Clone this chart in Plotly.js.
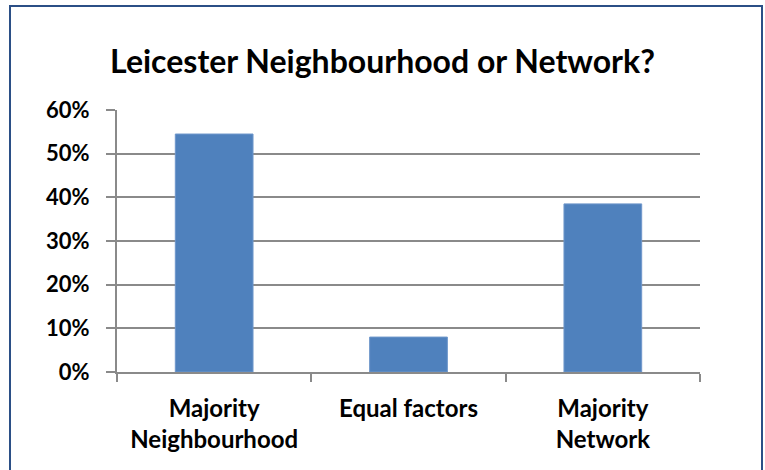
<!DOCTYPE html>
<html>
<head>
<meta charset="utf-8">
<script src="https://cdn.plot.ly/plotly-3.0.1.min.js"></script>
<style>
  html, body { margin:0; padding:0; background:#ffffff; }
  #wrap { position:relative; width:765px; height:470px; overflow:hidden; }
  #chart { position:absolute; left:0; top:0; width:765px; height:470px; }
  #frame { position:absolute; left:9px; top:5px; width:750px; height:480px;
           border:2px solid #2B4F86; pointer-events:none; }
</style>
</head>
<body>
<div id="wrap">
  <div id="chart"></div>
  <div id="frame"></div>
</div>
<script>
const categories = ["Majority<br>Neighbourhood", "Equal factors", "Majority<br>Network"];
const shares = [0.545, 0.08, 0.385];
const yTickVals = [0, 0.1, 0.2, 0.3, 0.4, 0.5, 0.6];
const yTickText = ["0%", "10%", "20%", "30%", "40%", "50%", "60%"];
const chartTitle = "Leicester Neighbourhood or Network?";

const FONT = "Lato, 'Open Sans', 'DejaVu Sans', sans-serif";

Plotly.newPlot("chart", [{
  type: "bar",
  x: categories,
  y: shares,
  marker: { color: "#4F81BD", line: { color: "#6F97CB", width: 1 } },
  hoverinfo: "skip"
}], {
  width: 765, height: 470,
  paper_bgcolor: "#ffffff", plot_bgcolor: "#ffffff",
  margin: { l: 117, r: 65, t: 110, b: 98 },
  bargap: 0.6,
  showlegend: false,
  title: {
    text: "<b>" + chartTitle + "</b>",
    font: { family: FONT, size: 32, color: "#000000" },
    x: 0.5, xanchor: "center", xref: "container",
    y: 1 - 62/470, yanchor: "middle"
  },
  xaxis: {
    type: "category",
    showline: true, linecolor: "#8A8A8A", linewidth: 2,
    showgrid: false, zeroline: false,
    ticks: "outside", tickson: "boundaries", ticklen: 8, tickwidth: 2, tickcolor: "#8A8A8A",
    tickfont: { family: FONT, size: 24, color: "#000000", weight: "bold" },
    ticklabelstandoff: 14,
    fixedrange: true
  },
  yaxis: {
    range: [0, 0.6],
    tickvals: yTickVals, ticktext: yTickText,
    showline: true, linecolor: "#8A8A8A", linewidth: 2,
    showgrid: true, gridcolor: "#8A8A8A", gridwidth: 2,
    zeroline: false,
    ticks: "outside", ticklen: 9, tickwidth: 2, tickcolor: "#8A8A8A",
    tickfont: { family: FONT, size: 22, color: "#000000", weight: "bold" },
    ticklabelstandoff: 12,
    fixedrange: true
  }
}, { displayModeBar: false, staticPlot: true });
</script>
</body>
</html>
